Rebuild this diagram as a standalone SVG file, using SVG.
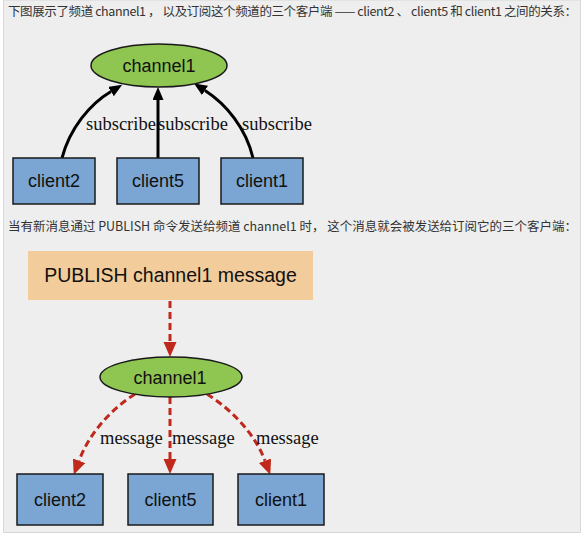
<svg xmlns="http://www.w3.org/2000/svg" width="584" height="536" viewBox="0 0 584 536">
<style>
.cap{font-family:"Noto Sans CJK SC","Liberation Sans",sans-serif;font-size:12.5px;fill:#333}
.lbl{font-family:"Liberation Sans",Arial,sans-serif;font-size:18px;fill:#111;text-anchor:middle}
.edge{font-family:"Liberation Serif","Times New Roman",serif;font-size:18.5px;fill:#111}
.box{fill:#7ba6d4;stroke:#1a1a1a;stroke-width:1.5}
.ell{fill:#8fc551;stroke:#1a1a1a;stroke-width:1.5}
.sub{fill:none;stroke:#000;stroke-width:3}
.msg{fill:none;stroke:#c0281c;stroke-width:3;stroke-dasharray:7,4}
</style>
<defs>
<marker id="ab" markerUnits="userSpaceOnUse" markerWidth="14" markerHeight="12" refX="0" refY="5.5" orient="auto"><path d="M0,0 L13,5.5 L0,11 z" fill="#000"/></marker>
<marker id="ar" markerUnits="userSpaceOnUse" markerWidth="16" markerHeight="14" refX="0" refY="6.5" orient="auto"><path d="M0,0 L15,6.5 L0,13 z" fill="#c0281c"/></marker>
</defs>
<rect x="0" y="0" width="584" height="536" fill="#ffffff"/>
<rect x="3.5" y="0" width="577" height="532.5" fill="#eeeeee" stroke="#d8d8d8" stroke-width="1"/>
<text class="cap" x="8" y="16" textLength="569" lengthAdjust="spacing">下图展示了频道 channel1 ， 以及订阅这个频道的三个客户端 —— client2 、 client5 和 client1 之间的关系：</text>
<text class="cap" x="8" y="231" textLength="569" lengthAdjust="spacing">当有新消息通过 PUBLISH 命令发送给频道 channel1 时， 这个消息就会被发送给订阅它的三个客户端：</text>
<g id="connectors">
<path class="sub" d="M62,158 C70,128 90,104 111,91.5" marker-end="url(#ab)"/>
<path class="sub" d="M158,158 L158,100" marker-end="url(#ab)"/>
<path class="sub" d="M253,158 C246,128 226,104 205,90.5" marker-end="url(#ab)"/>
<text class="edge" x="86" y="130">subscribe</text>
<text class="edge" x="158" y="130">subscribe</text>
<text class="edge" x="242" y="130">subscribe</text>
<path class="msg" d="M170,301 L170,342" marker-end="url(#ar)"/>
<path class="msg" d="M135,394 C110,410 89,434 79,460.8" marker-end="url(#ar)"/>
<path class="msg" d="M170,397 L170,459" marker-end="url(#ar)"/>
<path class="msg" d="M207,394 C232,410 255,434 265,460.8" marker-end="url(#ar)"/>
<text class="edge" x="100" y="444">message</text>
<text class="edge" x="172" y="444">message</text>
<text class="edge" x="256" y="444">message</text>
</g>
<g id="channel1-top"><ellipse class="ell" cx="159" cy="65.5" rx="68" ry="21.5"/><text class="lbl" x="159" y="72">channel1</text></g>
<g id="client2-top"><rect class="box" x="13" y="158" width="82" height="46"/><text class="lbl" x="54" y="187">client2</text></g>
<g id="client5-top"><rect class="box" x="117" y="158" width="82" height="46"/><text class="lbl" x="158" y="187">client5</text></g>
<g id="client1-top"><rect class="box" x="221" y="158" width="82" height="46"/><text class="lbl" x="262" y="187">client1</text></g>
<g id="publish"><rect x="28" y="251" width="285" height="49" fill="#f2cc9a"/><text class="lbl" x="170.5" y="282" style="font-size:19.5px">PUBLISH channel1 message</text></g>
<g id="channel1-bottom"><ellipse class="ell" cx="171" cy="377" rx="71" ry="20"/><text class="lbl" x="170" y="383.5">channel1</text></g>
<g id="client2-bottom"><rect class="box" x="17" y="474" width="86" height="51"/><text class="lbl" x="60" y="505.5">client2</text></g>
<g id="client5-bottom"><rect class="box" x="128" y="474" width="85" height="51"/><text class="lbl" x="170.5" y="505.5">client5</text></g>
<g id="client1-bottom"><rect class="box" x="238" y="474" width="86" height="51"/><text class="lbl" x="281" y="505.5">client1</text></g>
</svg>
